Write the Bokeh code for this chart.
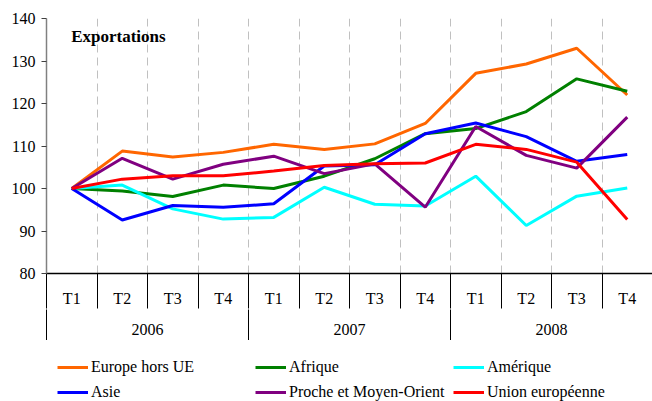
from bokeh.plotting import figure
from bokeh.layouts import column
from bokeh.models import (Range1d, FixedTicker, LinearAxis, Legend, LegendItem, Label)
from bokeh.embed import file_html
from bokeh.resources import INLINE

# ---- data ----
quarters = ["T1", "T2", "T3", "T4", "T1", "T2", "T3", "T4", "T1", "T2", "T3", "T4"]
years = ["2006", "2007", "2008"]
y_ticks = [80, 90, 100, 110, 120, 130, 140]

europe_hors_ue = [100, 108.8, 107.4, 108.5, 110.4, 109.2, 110.5, 115.3, 127.1, 129.3, 133.0, 122.0]
afrique = [100, 99.4, 98.1, 100.8, 100.0, 102.9, 107.0, 112.9, 114.1, 118.1, 125.8, 122.9]
amerique = [100, 100.8, 95.2, 92.8, 93.2, 100.3, 96.3, 95.9, 102.9, 91.3, 98.2, 100.1]
asie = [100, 92.6, 96.0, 95.6, 96.4, 105.3, 105.6, 112.9, 115.4, 112.2, 106.4, 108.0]
proche_moyen_orient = [100, 107.1, 102.2, 105.7, 107.6, 103.5, 105.8, 95.6, 114.6, 107.8, 104.8, 116.8]
union_europeenne = [100, 102.2, 103.0, 103.0, 104.1, 105.4, 105.8, 106.0, 110.4, 109.2, 106.2, 92.7]

series = [
    ("Europe hors UE", europe_hors_ue, "#FF6600"),
    ("Afrique", afrique, "#008000"),
    ("Amérique", amerique, "#00FFFF"),
    ("Asie", asie, "#0000FF"),
    ("Proche et Moyen-Orient", proche_moyen_orient, "#800080"),
    ("Union européenne", union_europeenne, "#FF0000"),
]

FONT = "Liberation Serif"
n = len(quarters)
centers = [i + 0.5 for i in range(n)]
bounds = list(range(n + 1))
per_year = n // len(years)
year_centers = [per_year * i + per_year / 2 for i in range(len(years))]
year_bounds = [per_year * i for i in range(len(years) + 1)]

# ---------------- main chart ----------------
p = figure(width=652, height=340, output_backend="svg", toolbar_location=None,
           x_range=Range1d(0, n), y_range=Range1d(80, 140),
           min_border_left=46, min_border_right=0, min_border_top=18, min_border_bottom=67)
p.outline_line_color = None
p.background_fill_color = "white"
p.border_fill_color = "white"

# y axis
ya = p.yaxis[0]
ya.ticker = FixedTicker(ticks=y_ticks, minor_ticks=[])
ya.major_tick_in = 0
ya.major_tick_out = 5
ya.minor_tick_line_color = None
ya.axis_line_color = "#808080"
ya.axis_line_width = 1.5
ya.major_tick_line_color = "#404040"
ya.major_label_standoff = 6

# x axis: quarters
xa = p.xaxis[0]
xa.ticker = FixedTicker(ticks=centers, minor_ticks=bounds)
xa.major_label_overrides = {c: q for c, q in zip(centers, quarters)}
xa.major_tick_in = 0
xa.major_tick_out = 0
xa.minor_tick_in = 0
xa.minor_tick_out = 35
xa.minor_tick_line_color = "black"
xa.axis_line_color = "black"
xa.axis_line_width = 1.3
xa.major_label_standoff = -19

# x axis: years
xa2 = LinearAxis(ticker=FixedTicker(ticks=year_centers, minor_ticks=year_bounds))
xa2.major_label_overrides = {c: y for c, y in zip(year_centers, years)}
xa2.axis_line_color = None
xa2.major_tick_in = 0
xa2.major_tick_out = 0
xa2.minor_tick_in = 0
xa2.minor_tick_out = 32
xa2.minor_tick_line_color = "black"
xa2.major_label_standoff = -18
p.add_layout(xa2, "below")

p.axis.major_label_text_font = FONT
p.axis.major_label_text_font_size = "16px"
p.axis.major_label_text_color = "black"

# grids
p.ygrid.grid_line_color = None
p.xgrid.ticker = FixedTicker(ticks=bounds[1:-1])
p.xgrid.grid_line_color = "#C0C0C0"
p.xgrid.grid_line_dash = "8 5"
p.xgrid.grid_line_width = 1

for name, vals, col in series:
    p.line(centers, vals, line_color=col, line_width=3)

title = Label(x=0.489, y=135.7, text="Exportations", text_font=FONT, text_font_size="17px",
              text_font_style="bold", text_baseline="middle", text_color="black")
p.add_layout(title)

# ---------------- legend strip ----------------
# Same series drawn into a strip whose ranges exclude them: only the legend swatches show.
lf = figure(width=652, height=61, output_backend="svg", toolbar_location=None,
            x_axis_type=None, y_axis_type=None, x_range=Range1d(0, n), y_range=Range1d(0, 1),
            min_border=0)
lf.outline_line_color = None
lf.background_fill_color = "white"
lf.border_fill_color = "white"
lf.grid.visible = False

items = []
for name, vals, col in series:
    r = lf.line(centers, vals, line_color=col, line_width=3)
    items.append(LegendItem(label=name, renderers=[r]))

legend = Legend(items=items, orientation="horizontal", ncols=3,
                location=(11, 0), padding=0, margin=0, spacing=7,
                glyph_width=31, glyph_height=18, label_height=18, label_width=157,
                label_standoff=3, border_line_color=None, background_fill_alpha=0)
legend.label_text_font = FONT
legend.label_text_font_size = "16px"
legend.label_text_color = "black"
lf.add_layout(legend, "center")

layout = column(p, lf, spacing=0)
open("out.html", "w").write(file_html(layout, INLINE))
